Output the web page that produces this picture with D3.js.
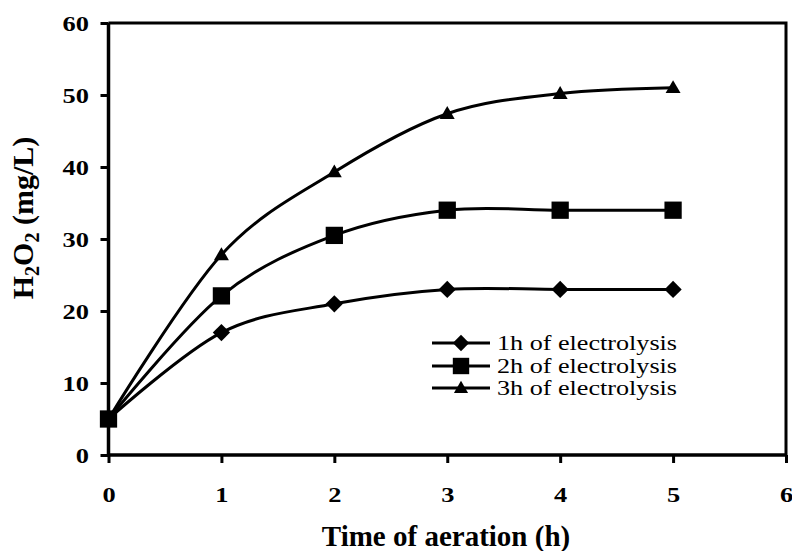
<!DOCTYPE html>
<html>
<head>
<meta charset="utf-8">
<script src="https://cdnjs.cloudflare.com/ajax/libs/d3/7.8.5/d3.min.js"></script>
<style>
  body { margin: 0; background: #fff; }
</style>
</head>
<body>
<div id="chart"></div>
<script>
const times = [0, 1, 2, 3, 4, 5];
const seriesNames = ['1h of electrolysis', '2h of electrolysis', '3h of electrolysis'];
const h2o2_1h = [5, 17, 21, 23, 23, 23];
const h2o2_2h = [5, 22.1, 30.5, 34, 34, 34];
const h2o2_3h = [5, 27.8, 39.3, 47.4, 50.2, 51];
const xTicks = [0, 1, 2, 3, 4, 5, 6];
const yTicks = [0, 10, 20, 30, 40, 50, 60];

const serif = '"Liberation Serif", "Times New Roman", Times, "DejaVu Serif", serif';
const width = 792, height = 551;
const svg = d3.select('#chart').append('svg')
    .attr('width', width)
    .attr('height', height)
    .style('font-family', serif);

const x = d3.scaleLinear().domain([0, 6]).range([108.5, 786]);
const y = d3.scaleLinear().domain([0, 60]).range([455, 23]);

// frame (top and right)
svg.append('path')
    .attr('d', `M${x(0)},${y(60)}H${x(6)}V${y(0)}`)
    .attr('fill', 'none')
    .attr('stroke', '#000')
    .attr('stroke-width', 3);

// axes
const xAxis = svg.append('g')
    .attr('transform', `translate(0,${y(0)})`)
    .call(d3.axisBottom(x).tickValues(xTicks).tickSize(8).tickFormat(d3.format('d')));
const yAxis = svg.append('g')
    .attr('transform', `translate(${x(0)},0)`)
    .call(d3.axisLeft(y).tickValues(yTicks).tickSize(8).tickFormat(d3.format('d')));

[xAxis, yAxis].forEach(g => {
    g.attr('font-family', null).attr('font-size', null);
    g.select('.domain').attr('stroke-width', 3.5);
    g.selectAll('.tick line').attr('stroke-width', 3);
    g.selectAll('.tick text')
        .style('font-family', serif)
        .style('font-size', '22px')
        .style('font-weight', 'bold');
});
yAxis.selectAll('.domain').attr('d', `M0,${y(0)}V${y(60)}`);
xAxis.selectAll('.domain').attr('d', `M0,0H${x(6) - x(0)}`).attr('transform', `translate(${x(0)},0)`);

// tick labels are drawn a little wide in the original
xAxis.selectAll('.tick text')
    .attr('y', 0).attr('dy', 0)
    .attr('transform', 'translate(0,47) scale(1.2,1)');
yAxis.selectAll('.tick text')
    .attr('x', 0).attr('dy', '0.34em')
    .attr('transform', 'translate(-19.5,0) scale(1.2,1)');

// titles
svg.append('text')
    .attr('x', 446)
    .attr('y', 546)
    .attr('text-anchor', 'middle')
    .style('font-family', serif)
    .style('font-size', '29px')
    .style('font-weight', 'bold')
    .text('Time of aeration (h)');

const yTitle = svg.append('text')
    .attr('transform', 'translate(33,218) rotate(-90)')
    .attr('text-anchor', 'middle')
    .style('font-family', serif)
    .style('font-size', '30px')
    .style('font-weight', 'bold');
yTitle.append('tspan').text('H');
yTitle.append('tspan').attr('dy', 6).style('font-size', '20px').text('2');
yTitle.append('tspan').attr('dy', -6).text('O');
yTitle.append('tspan').attr('dy', 6).style('font-size', '20px').text('2');
yTitle.append('tspan').attr('dy', -6).text(' (mg/L)');

// series
const series = [
    { name: seriesNames[0], values: h2o2_1h, symbol: d3.symbolDiamond2, size: 190 },
    { name: seriesNames[1], values: h2o2_2h, symbol: d3.symbolSquare2, size: 380 },
    { name: seriesNames[2], values: h2o2_3h, symbol: d3.symbolTriangle2, size: 160 }
];

const line = d3.line()
    .x((d, i) => x(times[i]))
    .y(d => y(d))
    .curve(d3.curveCatmullRom.alpha(0));

series.forEach(s => {
    svg.append('path')
        .datum(s.values)
        .attr('d', line)
        .attr('fill', 'none')
        .attr('stroke', '#000')
        .attr('stroke-width', 3);
});

series.forEach(s => {
    const sym = d3.symbol().type(s.symbol).size(s.size);
    svg.append('g').selectAll('path')
        .data(s.values)
        .join('path')
        .attr('d', sym)
        .attr('transform', (d, i) => `translate(${x(times[i])},${y(d) + (s.symbol === d3.symbolTriangle2 ? 1 : 0)})`)
        .attr('fill', '#000');
});

// legend
const legend = svg.append('g');
const legendRows = [343, 366, 388];
series.forEach((s, i) => {
    const row = legend.append('g').attr('transform', `translate(0,${legendRows[i]})`);
    row.append('line')
        .attr('x1', 432).attr('x2', 490)
        .attr('stroke', '#000').attr('stroke-width', 3);
    row.append('path')
        .attr('d', d3.symbol().type(s.symbol).size(s.size * 0.9))
        .attr('transform', `translate(461,${s.symbol === d3.symbolTriangle2 ? 1 : 0})`)
        .attr('fill', '#000');
    row.append('text')
        .attr('x', 497)
        .attr('dy', '0.33em')
        .attr('textLength', 180)
        .attr('lengthAdjust', 'spacingAndGlyphs')
        .style('font-family', serif)
        .style('font-size', '20px')
        .text(s.name);
});
</script>
</body>
</html>
